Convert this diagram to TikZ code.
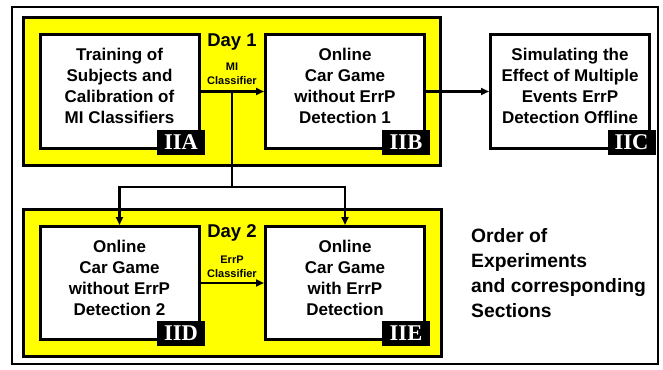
\documentclass[tikz,border=0pt]{standalone}
\usepackage{fontspec}
\setmainfont{Liberation Sans}
\newfontfamily\tagfont{Liberation Serif}
\usetikzlibrary{arrows.meta}
\definecolor{dayyellow}{RGB}{255,255,0}
\begin{document}
\begin{tikzpicture}[x=1pt,y=-1pt,
  frame/.style={draw=black, line width=2.5pt},
  daybox/.style={draw=black, fill=dayyellow, line width=3pt},
  stagebox/.style={draw=black, fill=white, line width=3pt,
    minimum width=159pt, minimum height=113pt, inner sep=0pt},
  stagetext/.style={font=\fontsize{17}{21}\selectfont\bfseries,
    align=center, inner sep=0pt},
  tag/.style={fill=black, text=white,
    font=\tagfont\fontsize{22.5}{22.5}\selectfont\bfseries,
    minimum width=48pt, minimum height=25pt, inner sep=0pt},
  daytitle/.style={font=\fontsize{18.5}{22}\selectfont\bfseries,
    inner sep=0pt, anchor=base},
  linktext/.style={font=\fontsize{11}{14}\selectfont\bfseries,
    align=center, inner sep=0pt},
  wire/.style={line width=2.5pt, line join=miter},
  link/.style={wire, -{Triangle[length=8pt,width=7pt]}},
]
\useasboundingbox (0,0) rectangle (663,369);

% outer frame
\path[frame] (12,7) rectangle (658,364);

% day panels
\path[daybox] (23,18) rectangle (440,165);
\path[daybox] (23,209) rectangle (441,356);

% stages
\node[stagebox] (iia) at (119.5,91.5) {};
\node[stagebox] (iib) at (345,91.5) {};
\node[stagebox] (iic) at (570,91.5) {};
\node[stagebox] (iid) at (119.5,283) {};
\node[stagebox] (iie) at (345,283) {};

\node[stagetext] (iia-text) at (119.5,86.4)
  {Training of\\Subjects and\\Calibration of\\MI Classifiers};
\node[stagetext] (iib-text) at (345,86.4)
  {Online\\Car Game\\without ErrP\\Detection 1};
\node[stagetext] (iic-text) at (570,86.4)
  {Simulating the\\Effect of Multiple\\Events ErrP\\Detection Offline};
\node[stagetext] (iid-text) at (119.5,278)
  {Online\\Car Game\\without ErrP\\Detection 2};
\node[stagetext] (iie-text) at (345,278)
  {Online\\Car Game\\with ErrP\\Detection};

% section tags
\node[tag] (iia-tag) at (181,142.5) {IIA};
\node[tag] (iib-tag) at (406,142.5) {IIB};
\node[tag] (iic-tag) at (631.5,142.5) {IIC};
\node[tag] (iid-tag) at (181,333.5) {IID};
\node[tag] (iie-tag) at (406,333.5) {IIE};

% day titles and link captions
\node[daytitle] (day1) at (232,46) {Day 1};
\node[daytitle] (day2) at (232,237.7) {Day 2};
\node[linktext] (mi-cap) at (232,74) {MI\\Classifier};
\node[linktext] (errp-cap) at (232,266.6) {ErrP\\Classifier};

% connectors
\coordinate (split) at (232,91.5);
\coordinate (fork) at (232,187);
\draw[link] (iia.east) -- (iib.west);
\draw[link] (iib.east) -- (iic.west);
\draw[wire] (split) -- (fork);
\draw[link] (fork) -| (iid.north);
\draw[link] (fork) -| (iie.north);
\draw[link] (iid.east) -- (iie.west);

% legend
\node[font=\fontsize{19.3}{25}\selectfont\bfseries, align=left,
  inner sep=0pt, anchor=west] (legend) at (471,273)
  {Order of\\Experiments\\and corresponding\\Sections};
\end{tikzpicture}
\end{document}
